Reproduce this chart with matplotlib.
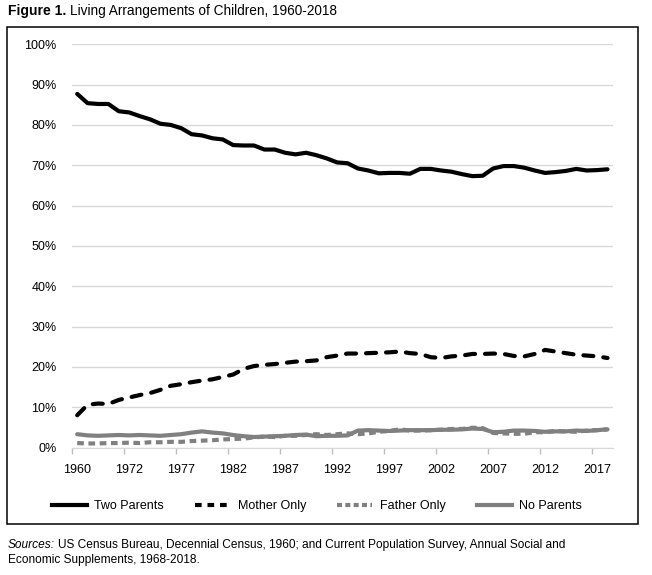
import matplotlib.pyplot as plt
from matplotlib.patches import Rectangle
from matplotlib.lines import Line2D

# categories: 1960, then every year 1968-2018
years = ['1960'] + [str(y) for y in range(1968, 2019)]

two_parents = [87.7, 85.4, 85.2, 85.2, 83.4, 83.1, 82.2, 81.4, 80.3, 80.0,
               79.2, 77.7, 77.4, 76.7, 76.4, 75.0, 74.9, 74.9, 73.9, 73.9,
               73.1, 72.7, 73.1, 72.5, 71.7, 70.7, 70.5, 69.2, 68.7, 68.0,
               68.1, 68.1, 67.9, 69.1, 69.1, 68.7, 68.4, 67.8, 67.3, 67.4,
               69.2, 69.8, 69.8, 69.4, 68.7, 68.1, 68.3, 68.6, 69.1, 68.7,
               68.8, 69.0]
mother_only = [8.0, 10.6, 10.9, 10.8, 11.8, 12.4, 13.0, 13.5, 14.3, 15.3,
               15.7, 16.2, 16.6, 16.9, 17.5, 18.1, 19.5, 20.2, 20.5, 20.7,
               21.0, 21.3, 21.4, 21.6, 22.4, 22.8, 23.3, 23.3, 23.4, 23.5,
               23.6, 23.8, 23.4, 23.2, 22.4, 22.2, 22.6, 22.8, 23.2, 23.2,
               23.3, 23.2, 22.7, 22.6, 23.2, 24.2, 23.8, 23.4, 23.0, 22.8,
               22.6, 22.2]
father_only = [1.1, 1.0, 1.0, 1.1, 1.1, 1.2, 1.1, 1.3, 1.3, 1.4,
               1.4, 1.6, 1.7, 1.8, 2.0, 2.1, 2.2, 2.5, 2.7, 2.6,
               2.9, 2.9, 3.1, 3.3, 3.1, 3.3, 3.5, 3.3, 3.5, 3.9,
               4.1, 4.5, 4.2, 4.2, 4.3, 4.4, 4.6, 4.6, 4.9, 4.8,
               3.6, 3.5, 3.4, 3.4, 3.8, 3.8, 4.1, 4.0, 3.9, 4.2,
               4.3, 4.5]
no_parents = [3.3, 3.0, 2.9, 3.0, 3.1, 3.0, 3.1, 3.0, 2.9, 3.1,
              3.3, 3.7, 4.0, 3.7, 3.5, 3.1, 2.8, 2.6, 2.7, 2.8,
              2.9, 3.1, 3.2, 2.8, 2.9, 2.9, 3.0, 4.2, 4.3, 4.2,
              4.1, 4.2, 4.3, 4.3, 4.3, 4.4, 4.4, 4.5, 4.7, 4.6,
              3.8, 3.9, 4.2, 4.2, 4.1, 3.9, 4.0, 4.0, 4.2, 4.1,
              4.3, 4.5]

plt.rcParams['font.family'] = ['Liberation Sans', 'DejaVu Sans']

W, H = 652, 575
fig = plt.figure(figsize=(W / 100, H / 100), dpi=100)

def fx(px):
    return px / W

def fy(py):
    return 1 - py / H

ax = fig.add_axes([fx(72), fy(447.5), fx(612.7 - 72), (447.5 - 44.3) / H])

x = list(range(len(years)))
gray = '#808080'
ax.plot(x, two_parents, color='black', lw=3, solid_capstyle='round', label='Two Parents')
ax.plot(x, mother_only, color='black', lw=3, dashes=(2.4, 2.4), dash_capstyle='round', label='Mother Only')
ax.plot(x, father_only, color=gray, lw=3, dashes=(1.6, 1.1), label='Father Only')
ax.plot(x, no_parents, color=gray, lw=3, solid_capstyle='round', label='No Parents')

ax.set_ylim(0, 100)
ax.set_xlim(-0.5, 51.5)
ax.set_yticks(range(0, 101, 10))
ax.set_yticklabels([f'{v}%' for v in range(0, 101, 10)])
ax.yaxis.grid(True, color='#d9d9d9', lw=1)
ax.set_axisbelow(True)
ax.set_xticks(x[::5])
ax.set_xticklabels(years[::5])
ax.set_xticks([i - 0.5 for i in x[::5]], minor=True)
ax.tick_params(axis='x', which='major', length=0, pad=12, labelsize=9)
ax.tick_params(axis='x', which='minor', length=4, color='#bfbfbf', width=1)
ax.tick_params(axis='y', length=0, pad=11, labelsize=9)
for s in ['top', 'right', 'left']:
    ax.spines[s].set_visible(False)
ax.spines['bottom'].set_color('#d9d9d9')

# legend
handles = [
    Line2D([], [], color='black', lw=3),
    Line2D([], [], color='black', lw=3, dashes=(1.6, 1.4)),
    Line2D([], [], color=gray, lw=3, dashes=(1.2, 0.8)),
    Line2D([], [], color=gray, lw=3),
]
labels = ['Two Parents', 'Mother Only', 'Father Only', 'No Parents']
fig.legend(handles, labels, loc='center', bbox_to_anchor=(fx(317), fy(506)),
           ncol=4, frameon=False, fontsize=9, handlelength=2.8,
           handletextpad=0.6, columnspacing=2.5)

# outer frame
fig.patches.append(Rectangle((fx(7), fy(524)), fx(631), (524 - 27) / H,
                             transform=fig.transFigure, fill=False,
                             edgecolor='black', lw=1.1))

# title and source note
fig.canvas.draw()
r = fig.canvas.get_renderer()
t1 = fig.text(fx(8), fy(11), 'Figure 1.', fontsize=10, fontweight='bold', va='center')
bb = t1.get_window_extent(r)
fig.text(fx(bb.x1 + 4), fy(11), 'Living Arrangements of Children, 1960-2018',
         fontsize=9.8, va='center')

s1 = fig.text(fx(8), fy(545), 'Sources:', fontsize=8.6, style='italic', va='center')
bb = s1.get_window_extent(r)
fig.text(fx(bb.x1 + 3), fy(545),
         'US Census Bureau, Decennial Census, 1960; and Current Population Survey, Annual Social and',
         fontsize=8.6, va='center')
fig.text(fx(8), fy(560), 'Economic Supplements, 1968-2018.', fontsize=8.6, va='center')

fig.savefig('out.png', dpi=100)
